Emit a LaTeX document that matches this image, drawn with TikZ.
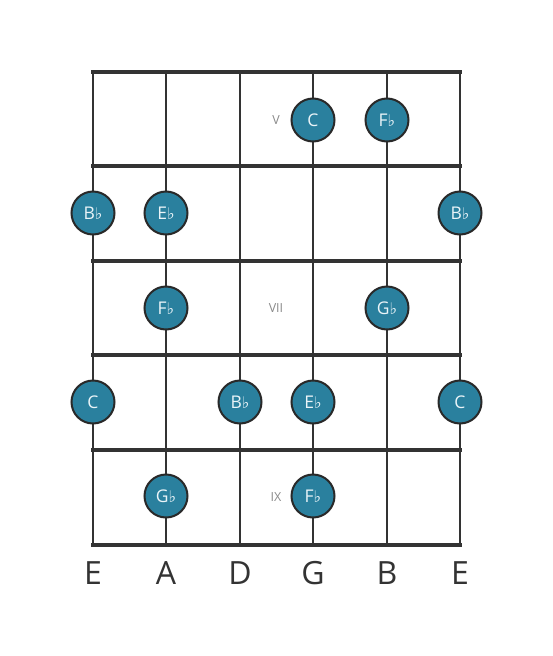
\documentclass[tikz,border=0pt]{standalone}
\usepackage{fontspec}
\setmainfont{Open Sans}
\newfontfamily\flatfont{DejaVu Sans}
\definecolor{notefill}{HTML}{2A809E}
\definecolor{lineclr}{HTML}{333333}
\definecolor{romanclr}{HTML}{8A8A8A}
\definecolor{notetext}{HTML}{EAF4F8}
\newcommand{\fl}{{\flatfont\fontsize{16}{16}\selectfont\raisebox{0pt}{♭}}}
\begin{document}
\begin{tikzpicture}[x=1pt,y=-1pt,
  stringline/.style={draw=lineclr,line width=2.6pt},
  fretline/.style={draw=lineclr,line width=4.2pt},
  note/.style={circle,draw=lineclr!80!black,line width=2pt,fill=notefill,minimum size=43pt,inner sep=0pt,text=notetext,font=\fontsize{17.5}{17.5}\selectfont},
  roman/.style={text=romanclr,font=\fontsize{12.5}{12.5}\selectfont,inner sep=0pt},
  strlabel/.style={text=lineclr,font=\fontsize{32}{32}\selectfont,inner sep=0pt}]
\useasboundingbox (0,0) rectangle (553,656);
% strings
\foreach \i/\x in {1/93,2/166,3/240,4/313,5/387,6/460}{
  \coordinate (t\i) at (\x,72);
  \coordinate (b\i) at (\x,545);
  \draw[stringline] (t\i) -- (b\i);
}
% frets
\foreach \j/\y in {0/72,1/166,2/261,3/355,4/450,5/545}{
  \coordinate (fl\j) at (93,\y);
  \coordinate (fr\j) at (460,\y);
  \draw[fretline,line cap=rect] (fl\j) -- (fr\j);
}
% roman numerals
\node[roman] (r5) at (276,120) {V};
\node[roman] (r7) at (276,308) {VII};
\node[roman] (r9) at (276,497) {IX};
% notes
\node[note] (n1) at (313,120) {C};
\node[note] (n2) at (387,120) {F\fl};
\node[note] (n3) at (93,213) {B\fl};
\node[note] (n4) at (166,213) {E\fl};
\node[note] (n5) at (460,213) {B\fl};
\node[note] (n6) at (166,308) {F\fl};
\node[note] (n7) at (387,308) {G\fl};
\node[note] (n8) at (93,402) {C};
\node[note] (n9) at (240,402) {B\fl};
\node[note] (n10) at (313,402) {E\fl};
\node[note] (n11) at (460,402) {C};
\node[note] (n12) at (166,496) {G\fl};
\node[note] (n13) at (313,496) {F\fl};
% string labels
\node[strlabel] (s1) at (93,573) {E};
\node[strlabel] (s2) at (166,573) {A};
\node[strlabel] (s3) at (240,573) {D};
\node[strlabel] (s4) at (313,573) {G};
\node[strlabel] (s5) at (387,573) {B};
\node[strlabel] (s6) at (460,573) {E};
\end{tikzpicture}
\end{document}
